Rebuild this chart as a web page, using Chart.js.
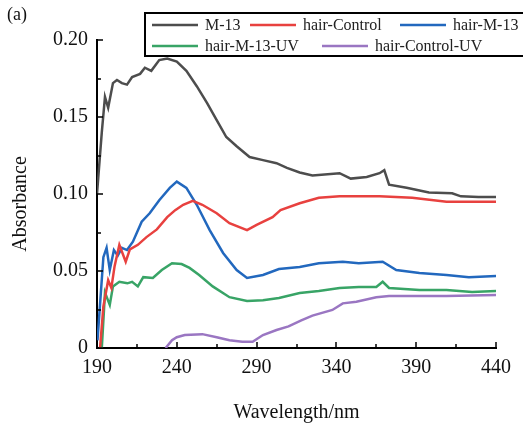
<!DOCTYPE html>
<html>
<head>
<meta charset="utf-8">
<script src="https://cdn.jsdelivr.net/npm/chart.js@4.4.0/dist/chart.umd.min.js"></script>
<style>
html, body { margin: 0; padding: 0; background: #fff; }
</style>
</head>
<body>
<canvas id="myChart" width="523" height="424"></canvas>
<script>
// Spectra (wavelength in nm, absorbance)
const m13Wl  = [190, 193, 195, 197, 200, 202.5, 205.6, 208.8, 212, 217, 220, 224, 229, 234, 240, 246, 252.5, 259, 265, 271, 277.5, 285.6, 294, 302.5, 309, 317, 325, 342, 349, 359, 367, 370, 373, 384, 398, 412.5, 418, 429, 440];
const m13Abs = [0.100, 0.140, 0.163, 0.156, 0.172, 0.174, 0.172, 0.171, 0.176, 0.178, 0.182, 0.180, 0.187, 0.188, 0.186, 0.180, 0.170, 0.159, 0.148, 0.137, 0.131, 0.124, 0.122, 0.120, 0.117, 0.114, 0.112, 0.1135, 0.110, 0.111, 0.1135, 0.1155, 0.106, 0.104, 0.101, 0.1005, 0.0985, 0.098, 0.098];

const ctrlWl  = [191.9, 194, 197, 199, 201, 204, 208, 210.6, 215.6, 221, 227.5, 234, 239, 244, 250, 256, 265, 273, 284, 290, 300, 305, 317, 329, 342, 367, 387.5, 409, 440];
const ctrlAbs = [0, 0.027, 0.044, 0.039, 0.053, 0.067, 0.056, 0.064, 0.067, 0.072, 0.077, 0.085, 0.0895, 0.093, 0.0955, 0.093, 0.0875, 0.081, 0.0765, 0.080, 0.085, 0.0895, 0.094, 0.0975, 0.0985, 0.0985, 0.0975, 0.095, 0.095];

const hm13Wl  = [190.3, 194, 196, 198, 200.6, 203, 205.6, 208.8, 212.5, 218, 223, 229, 235.6, 240, 246, 252.5, 260.6, 269, 277.5, 284, 294, 304, 317, 329, 344, 354, 369, 377.5, 392, 409, 423, 440];
const hm13Abs = [0.005, 0.059, 0.065, 0.0506, 0.0636, 0.060, 0.065, 0.0636, 0.069, 0.082, 0.0875, 0.096, 0.104, 0.108, 0.104, 0.093, 0.0766, 0.0617, 0.0506, 0.0455, 0.0474, 0.0513, 0.0526, 0.055, 0.056, 0.055, 0.056, 0.0506, 0.0487, 0.0474, 0.046, 0.0467];

const hm13uvWl  = [193, 195, 198, 200, 204, 209, 212, 215.6, 219, 225, 230.6, 237, 243, 248, 254, 262.5, 273, 284, 294, 304, 317, 329, 342, 354, 365, 369, 373, 392, 409, 425, 440];
const hm13uvAbs = [0, 0.036, 0.028, 0.040, 0.043, 0.042, 0.043, 0.040, 0.046, 0.0455, 0.0506, 0.055, 0.0545, 0.052, 0.0474, 0.040, 0.033, 0.0305, 0.031, 0.0325, 0.0357, 0.037, 0.039, 0.0396, 0.0396, 0.043, 0.039, 0.0377, 0.0377, 0.0364, 0.037];

const ctrluvWl  = [233, 237, 240, 245, 256, 265, 273, 281, 287.5, 294, 302.5, 310, 318, 325, 337.5, 344, 352.5, 365, 373, 392, 409, 440];
const ctrluvAbs = [0, 0.005, 0.007, 0.0084, 0.009, 0.007, 0.005, 0.004, 0.004, 0.0084, 0.0117, 0.0140, 0.018, 0.021, 0.0247, 0.029, 0.030, 0.033, 0.0338, 0.0338, 0.0338, 0.0344];

const seriesNames = ['M-13', 'hair-Control', 'hair-M-13', 'hair-M-13-UV', 'hair-Control-UV'];
const seriesColors = ['#4d4d4d', '#e8413f', '#2268be', '#38a466', '#9a76c2'];

const xTicks = [190, 240, 290, 340, 390, 440];
const yTicks = [0, 0.05, 0.10, 0.15, 0.20];

const FONT = '"Liberation Serif", "Times New Roman", serif';

function toPoints(wl, abs) {
    return wl.map((w, i) => ({ x: w, y: abs[i] }));
}

const allSeries = [
    toPoints(m13Wl, m13Abs),
    toPoints(ctrlWl, ctrlAbs),
    toPoints(hm13Wl, hm13Abs),
    toPoints(hm13uvWl, hm13uvAbs),
    toPoints(ctrluvWl, ctrluvAbs)
];

// inward tick marks, y title and the "(a)" panel label
const axisDecor = {
    id: 'axisDecor',
    afterDraw(chart) {
        const c = chart.ctx;
        const xs = chart.scales.x, ys = chart.scales.y;
        const area = chart.chartArea;
        c.save();
        c.strokeStyle = '#000';
        c.lineWidth = 1.5;
        for (let v = 190; v <= 440; v += 25) {
            const px = Math.round(xs.getPixelForValue(v));
            const len = (v - 190) % 50 === 0 ? 6 : 4;
            c.beginPath();
            c.moveTo(px, area.bottom);
            c.lineTo(px, area.bottom - len);
            c.stroke();
        }
        for (let i = 0; i <= 8; i++) {
            const v = i * 0.025;
            const py = Math.round(ys.getPixelForValue(v));
            const len = i % 2 === 0 ? 6 : 4;
            c.beginPath();
            c.moveTo(area.left, py);
            c.lineTo(area.left + len, py);
            c.stroke();
        }
        c.fillStyle = '#111';
        c.font = '18px ' + FONT;
        c.textBaseline = 'top';
        c.fillText('(a)', 7, 6);

        // y axis title, a bit below the plot centre like the original
        c.font = '20px ' + FONT;
        c.translate(21, 204);
        c.rotate(-Math.PI / 2);
        c.textAlign = 'center';
        c.textBaseline = 'middle';
        c.fillText('Absorbance', 0, 0);
        c.restore();
    }
};

// boxed two-row legend on top of the plot
const boxLegend = {
    id: 'boxLegend',
    afterDraw(chart) {
        const c = chart.ctx;
        const items = [
            { i: 0, x: 152, y: 25 }, { i: 1, x: 250, y: 25 }, { i: 2, x: 400, y: 25 },
            { i: 3, x: 152, y: 46 }, { i: 4, x: 322, y: 46 }
        ];
        c.save();
        c.fillStyle = '#fff';
        c.fillRect(145, 13, 390, 43);
        c.strokeStyle = '#000';
        c.lineWidth = 2;
        c.strokeRect(145, 13, 390, 43);
        c.font = '16px ' + FONT;
        c.textBaseline = 'middle';
        items.forEach(it => {
            const ds = chart.data.datasets[it.i];
            c.strokeStyle = ds.borderColor;
            c.lineWidth = 2.5;
            c.beginPath();
            c.moveTo(it.x, it.y);
            c.lineTo(it.x + 46, it.y);
            c.stroke();
            c.fillStyle = '#222';
            c.fillText(ds.label, it.x + 53, it.y + 1);
        });
        c.restore();
    }
};

const ctx = document.getElementById('myChart').getContext('2d');

let myChart = new Chart(ctx, {
    type: 'line',
    data: {
        datasets: allSeries.map((pts, i) => ({
            label: seriesNames[i],
            data: pts,
            borderColor: seriesColors[i],
            backgroundColor: seriesColors[i],
            borderWidth: 2.5,
            pointRadius: 0,
            tension: 0,
            fill: false
        }))
    },
    options: {
        responsive: false,
        animation: false,
        layout: { padding: { top: 40, right: 27, left: 0, bottom: 0 } },
        plugins: {
            legend: { display: false },
            tooltip: { enabled: false }
        },
        scales: {
            x: {
                type: 'linear',
                min: 190,
                max: 440,
                afterFit(scale) { scale.height = 76; },
                afterBuildTicks(scale) { scale.ticks = xTicks.map(v => ({ value: v })); },
                grid: { display: false, drawTicks: false },
                border: { display: true, color: '#000', width: 2 },
                ticks: {
                    color: '#111',
                    padding: 8,
                    maxRotation: 0,
                    font: { family: FONT, size: 20 }
                },
                title: {
                    display: true,
                    text: 'Wavelength/nm',
                    color: '#111',
                    font: { family: FONT, size: 20, lineHeight: 1 },
                    padding: { top: 0, bottom: 1 }
                }
            },
            y: {
                min: 0,
                max: 0.2,
                afterFit(scale) { scale.width = 97; },
                afterBuildTicks(scale) { scale.ticks = yTicks.map(v => ({ value: v })); },
                grid: { display: false, drawTicks: false },
                border: { display: true, color: '#000', width: 2 },
                ticks: {
                    color: '#111',
                    padding: 9,
                    font: { family: FONT, size: 20 },
                    callback: v => v === 0 ? '0' : v.toFixed(2)
                },
                title: { display: false }
            }
        }
    },
    plugins: [axisDecor, boxLegend]
});
</script>
</body>
</html>
